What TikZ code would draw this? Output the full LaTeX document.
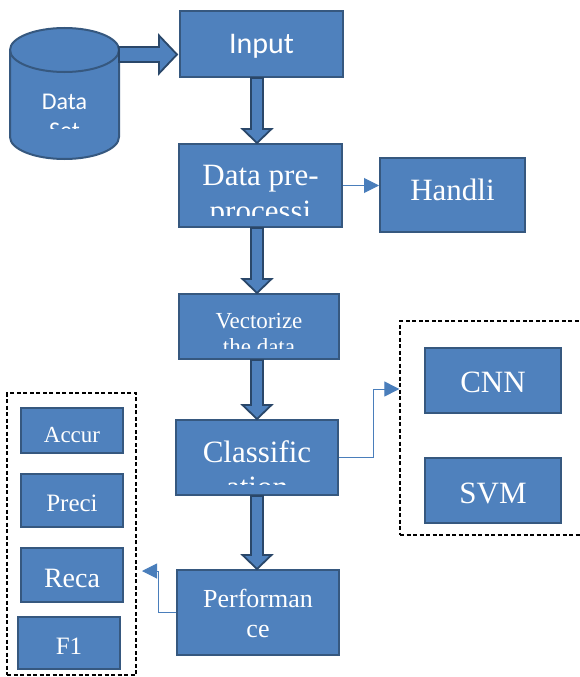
\documentclass[tikz,border=0pt]{standalone}
\usepackage{fontspec}
\setmainfont{Liberation Serif}
\newfontfamily\calib{Carlito}
\usetikzlibrary{arrows.meta,calc}
\definecolor{boxblue}{HTML}{4F81BD}
\definecolor{boxedge}{HTML}{36587F}
\definecolor{arrowedge}{HTML}{2A4769}
\definecolor{linkblue}{HTML}{4A7EBB}
\newcommand\fs[1]{\fontsize{#1}{#1}\selectfont}
% block arrow pointing down from one box to the next, on the spine
\newcommand\fatdown[2]{%
  \filldraw[fat] let \p1=(spine |- #1.south), \p2=(spine |- #2.north) in
    (\x1-6pt,\y1) -- (\x1-6pt,\y2+14pt) -- (\x1-14.5pt,\y2+14pt) -- (\x1,\y2)
    -- (\x1+14.5pt,\y2+14pt) -- (\x1+6pt,\y2+14pt) -- (\x1+6pt,\y1) -- cycle;}
\begin{document}
\begin{tikzpicture}[x=1pt,y=-1pt,
  box/.style={draw=boxedge, fill=boxblue, line width=2pt, inner sep=0pt},
  txt/.style={text=white, inner sep=0pt, anchor=base},
  fat/.style={draw=arrowedge, fill=boxblue, line width=1.8pt, line join=miter},
  link/.style={draw=linkblue, line width=1pt, -{Triangle[length=15pt,width=15pt]}},
  group/.style={draw=black, dashed, dash pattern=on 4pt off 2.5pt, line width=1.3pt, inner sep=0pt}]
\useasboundingbox (0,0) rectangle (579,677);

% data store cylinder
\filldraw[fat, draw=boxedge, line width=2pt]
  (10,50) -- (10,137) arc[start angle=180, end angle=0, x radius=54.5, y radius=22]
  -- (119,50) arc[start angle=0, end angle=-180, x radius=54.5, y radius=22] -- cycle;
\draw[draw=boxedge, line width=2pt] (10,50) arc[start angle=180, end angle=0, x radius=54.5, y radius=22];
\node[inner sep=0pt, minimum width=109pt, minimum height=131pt] (ds) at (64.5,93.5) {};
\coordinate (dsout) at (119,54.5);
\begin{scope}
  \clip (10,72) rectangle (119,128);
  \node[txt, font=\calib\fs{24}] at (64.5,109) {Data};
  \node[txt, font=\calib\fs{24}] at (64.5,138) {Set};
\end{scope}

% main column
\coordinate (spine) at (257,0);
\node[box, minimum width=163pt, minimum height=66pt] (input) at (261.5,44) {};
\node[txt, font=\calib\fs{30}] at (261.5,53) {Input};

\node[box, minimum width=163pt, minimum height=83pt] (pre) at (260.5,185.5) {};
\begin{scope}
  \clip (pre.north west) rectangle (pre.east |- 0,215);
  \node[txt, font=\fs{31}] at (260.5,185) {Data pre-};
  \node[txt, font=\fs{31}] at (260.5,221) {processi};
\end{scope}

\node[box, minimum width=145pt, minimum height=74pt] (handle) at (452.5,195) {};
\node[txt, font=\fs{31}] at (452.5,200) {Handli};

\node[box, minimum width=160pt, minimum height=65pt] (vec) at (259,326.5) {};
\begin{scope}
  \clip (vec.north west) rectangle (vec.east |- 0,348);
  \node[txt, font=\fs{23}] at (259,328) {Vectorize};
  \node[txt, font=\fs{23}] at (259,354) {the data};
\end{scope}

\node[box, minimum width=162pt, minimum height=75pt] (class) at (257,457.5) {};
\begin{scope}
  \clip (class.north west) rectangle (class.east |- 0,484);
  \node[txt, font=\fs{31}] at (257,462) {Classific};
  \node[txt, font=\fs{31}] at (257,497) {ation};
\end{scope}

\node[box, minimum width=162pt, minimum height=85pt] (perf) at (258,612.5) {};
\node[txt, font=\fs{26}] at (258,607) {Performan};
\node[txt, font=\fs{26}] at (258,637) {ce};

% model group
\node[group, minimum width=200pt, minimum height=214pt] (models) at (500,428) {};
\node[box, minimum width=136pt, minimum height=65pt] (cnn) at (493,380.5) {};
\node[txt, font=\fs{31}] at (493,392) {CNN};
\node[box, minimum width=136pt, minimum height=65pt] (svm) at (493,490.5) {};
\node[txt, font=\fs{31}] at (493,503) {SVM};

% metric group
\node[group, minimum width=129pt, minimum height=282pt] (metrics) at (71.5,534) {};
\node[box, minimum width=102pt, minimum height=45pt] (acc) at (72,430.5) {};
\node[txt, font=\fs{23}] at (72,442) {Accur};
\node[box, minimum width=102pt, minimum height=53pt] (prec) at (72,500.5) {};
\node[txt, font=\fs{25}] at (72,511) {Preci};
\node[box, minimum width=102pt, minimum height=54pt] (rec) at (72,575) {};
\node[txt, font=\fs{28}] at (72,587) {Reca};
\node[box, minimum width=102pt, minimum height=52pt] (f1) at (69,643) {};
\node[txt, font=\fs{25}] at (69,654) {F1};

% block arrows
\filldraw[fat] let \p1=(dsout), \p2=(input.west |- dsout) in
  (\x1,\y1+7.5pt) -- (\x2-20pt,\y1+7.5pt) -- (\x2-20pt,\y1+19pt) -- (\x2-2pt,\y1)
  -- (\x2-20pt,\y1-19pt) -- (\x2-20pt,\y1-7.5pt) -- (\x1,\y1-7.5pt) -- cycle;
\fatdown{input}{pre}
\fatdown{pre}{vec}
\fatdown{vec}{class}
\fatdown{class}{perf}

% thin connectors
\draw[link] (pre.east) -- (pre.east -| handle.west);
\coordinate (modelsin) at (models.west |- 0,389);
\draw[link] (class.east) -- ++(34,0) |- (modelsin);
\coordinate (metricsin) at (142,571);
\draw[link] (perf.west) -- ++(-18,0) |- (metricsin);
\end{tikzpicture}
\end{document}
